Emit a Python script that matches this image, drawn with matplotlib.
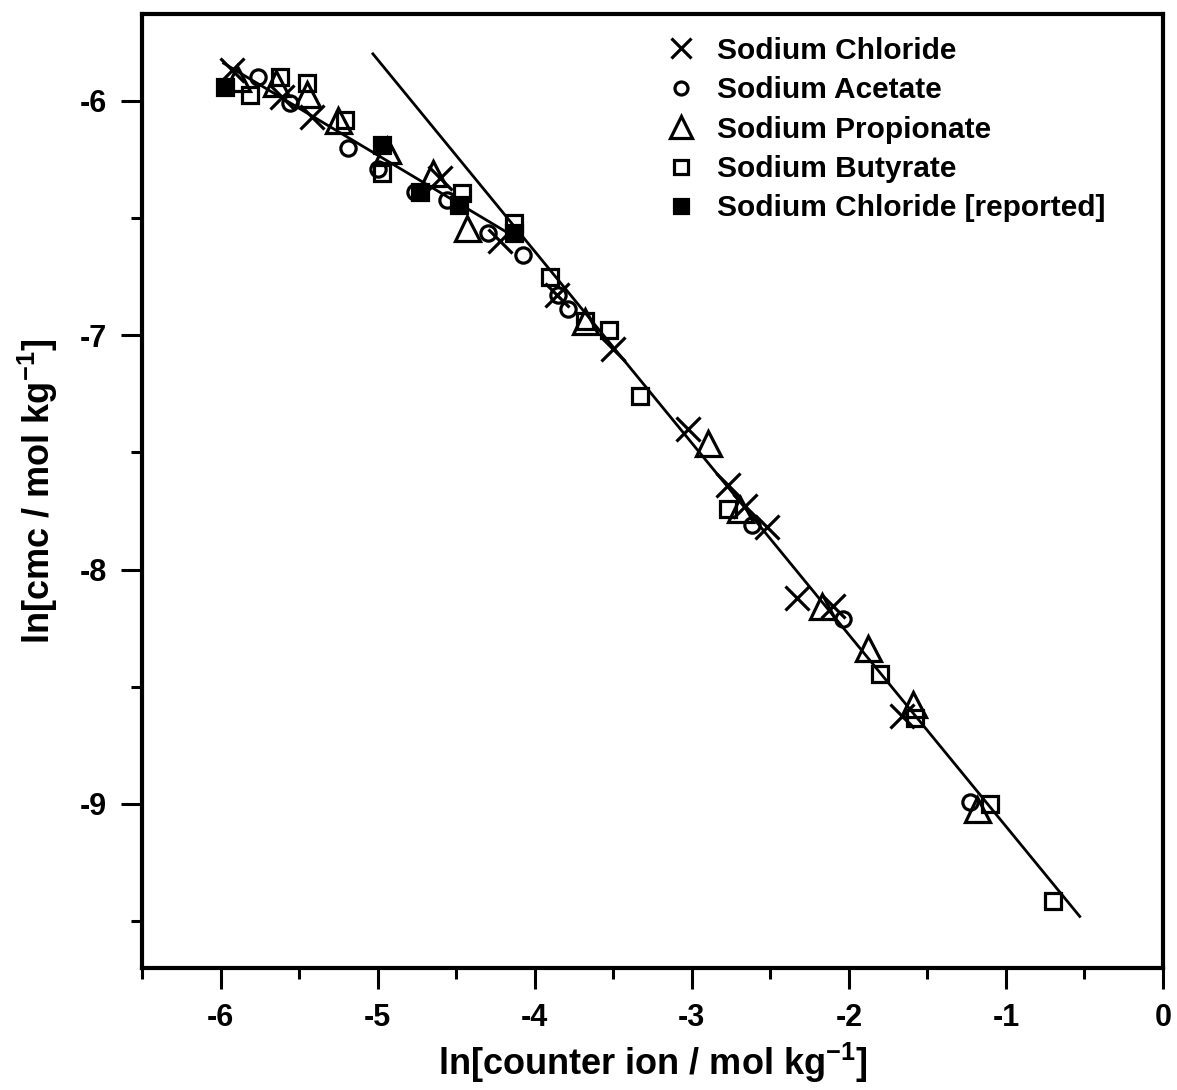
import numpy as np
import matplotlib
matplotlib.use('Agg')
from matplotlib import pyplot as plt

# ln[counter ion] vs ln[cmc]
chloride_x = [-5.93, -5.61, -5.42, -4.60, -4.22, -3.86, -3.50, -3.025, -2.77, -2.66, -2.52, -2.33, -2.10, -1.66]
chloride_y = [-5.87, -5.985, -6.07, -6.33, -6.60, -6.83, -7.06, -7.40, -7.64, -7.73, -7.82, -8.12, -8.155, -8.625]

acetate_x = [-5.76, -5.56, -5.19, -5.00, -4.76, -4.56, -4.30, -4.075, -3.85, -3.79, -2.617, -2.04, -1.23]
acetate_y = [-5.90, -6.01, -6.20, -6.29, -6.39, -6.425, -6.566, -6.66, -6.83, -6.887, -7.81, -8.21, -8.99]

propionate_x = [-5.895, -5.65, -5.45, -5.25, -4.94, -4.65, -4.43, -3.68, -2.897, -2.69, -2.17, -1.88, -1.59, -1.185]
propionate_y = [-5.903, -5.925, -5.97, -6.083, -6.21, -6.31, -6.545, -6.94, -7.46, -7.74, -8.155, -8.335, -8.575, -9.02]

butyrate_x = [-5.81, -5.62, -5.45, -5.21, -4.97, -4.46, -4.13, -3.90, -3.68, -3.53, -3.33, -2.77, -1.80, -1.58, -1.10, -0.70]
butyrate_y = [-5.976, -5.90, -5.925, -6.083, -6.31, -6.395, -6.52, -6.754, -6.94, -6.98, -7.26, -7.74, -8.445, -8.635, -9.00, -9.416]

reported_x = [-5.97, -4.97, -4.73, -4.48, -4.13]
reported_y = [-5.942, -6.19, -6.39, -6.446, -6.566]

# the two straight lines
low_x = [-5.98, -4.08]
low_y = [-5.84, -6.60]
high_x = [-5.03, -0.53]
high_y = [-5.80, -9.48]

labels = ['Sodium Chloride', 'Sodium Acetate', 'Sodium Propionate',
          'Sodium Butyrate', 'Sodium Chloride [reported]']

plt.rcParams['font.family'] = ['Liberation Sans', 'DejaVu Sans']
plt.rcParams['font.weight'] = 'bold'
plt.rcParams['mathtext.fontset'] = 'custom'
plt.rcParams['mathtext.rm'] = 'Liberation Sans:bold'
plt.rcParams['mathtext.default'] = 'rm'

W, H = 1177, 1090
fig = plt.figure(figsize=(W/100., H/100.), dpi=100)
ax = fig.add_axes([142./W, 1 - 968./H, (1163 - 142.)/W, (968 - 14.)/H])

lw = 2.0
ax.plot(low_x, low_y, 'k-', lw=lw)
ax.plot(high_x, high_y, 'k-', lw=lw)

ax.plot(chloride_x, chloride_y, 'x', color='k', ms=17, mew=2.3, ls='none', label=labels[0])
ax.plot(acetate_x, acetate_y, 'o', color='k', mfc='none', ms=11, mew=2.3, ls='none', label=labels[1])
ax.plot(propionate_x, propionate_y, '^', color='k', mfc='none', ms=18, mew=2.3, ls='none', label=labels[2])
ax.plot(butyrate_x, butyrate_y, 's', color='k', mfc='none', ms=11.5, mew=2.3, ls='none', label=labels[3])
ax.plot(reported_x, reported_y, 's', color='k', mfc='k', ms=11.5, mew=2.3, ls='none', label=labels[4])

ax.set_xlim(-6.5, 0)
ax.set_ylim(-9.7, -5.63)
ax.set_xticks(np.arange(-6, 0.5, 1))
ax.set_xticks(np.arange(-6.5, 0, 0.5), minor=True)
ax.set_yticks([-9, -8, -7, -6])
ax.set_yticks(np.arange(-9.5, -5.6, 0.5), minor=True)
ax.set_xticklabels(['-6', '-5', '-4', '-3', '-2', '-1', '0'])
ax.set_yticklabels(['-9', '-8', '-7', '-6'])

for s in ax.spines.values():
    s.set_linewidth(3)
ax.tick_params(which='major', direction='out', length=15, width=2.2, labelsize=22, pad=10)
ax.tick_params(which='minor', direction='out', length=8, width=2.2)
ax.tick_params(top=False, right=False, which='both')

ax.set_xlabel(r'ln[counter ion / mol kg$^{-1}$]', fontsize=26, fontweight='bold', labelpad=6)
ax.set_ylabel(r'ln[cmc / mol kg$^{-1}$]', fontsize=26, fontweight='bold', labelpad=14)

leg = ax.legend(loc='upper left', bbox_to_anchor=(648./W, 1 - 22./H), bbox_transform=fig.transFigure,
                frameon=False, handlelength=1.2, handletextpad=0.6, labelspacing=0.38,
                borderpad=0, markerscale=0.85, prop={'size': 21.5, 'weight': 'bold'})

fig.savefig('out.png', dpi=100)
